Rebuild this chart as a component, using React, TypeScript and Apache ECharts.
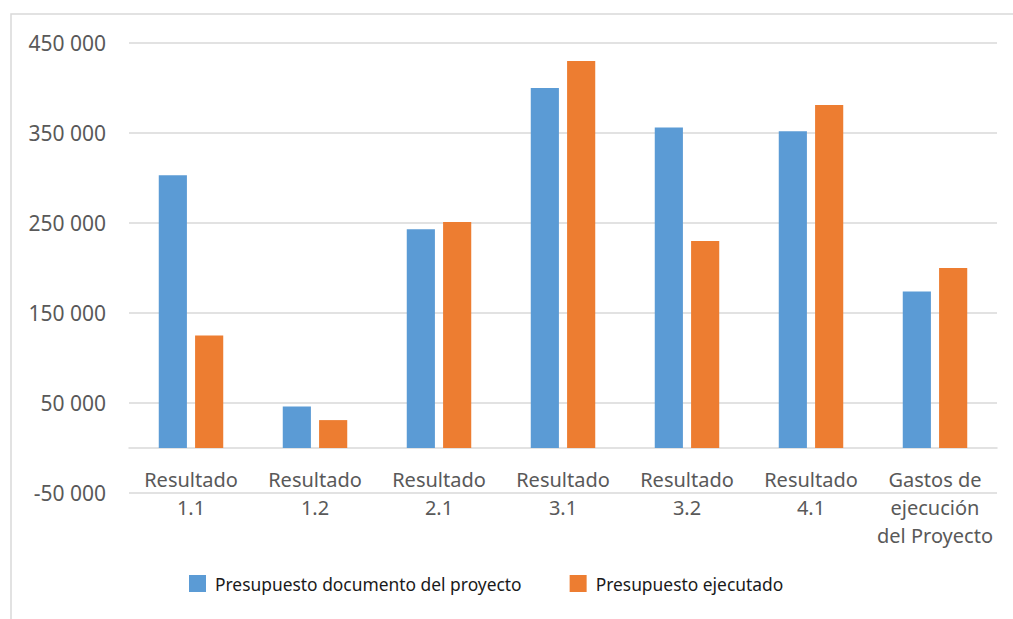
import React, { useEffect, useRef } from "react";
import * as echarts from "echarts";

const categories = [
  "Resultado\n1.1",
  "Resultado\n1.2",
  "Resultado\n2.1",
  "Resultado\n3.1",
  "Resultado\n3.2",
  "Resultado\n4.1",
  "Gastos de\nejecución\ndel Proyecto",
];
const seriesNames = ["Presupuesto documento del proyecto", "Presupuesto ejecutado"];
const presupuestoDocumento = [303000, 46000, 243000, 400000, 356000, 352000, 174000];
const presupuestoEjecutado = [125000, 31000, 251000, 430000, 230000, 381000, 200000];
const yMin = -50000;
const yMax = 450000;
const yInterval = 100000;

const fmt = (v: number) => {
  const s = Math.abs(v).toString().replace(/\B(?=(\d{3})+(?!\d))/g, " ");
  return (v < 0 ? "-" : "") + s;
};

export default function App() {
  const ref = useRef<HTMLDivElement>(null);
  useEffect(() => {
    document.body.style.margin = "0";
    const chart = echarts.init(ref.current!, null, { renderer: "svg" });
    const font = "'Noto Sans', 'Open Sans', sans-serif";
    chart.setOption({
      animation: false,
      backgroundColor: "#ffffff",
      textStyle: { fontFamily: font },
      graphic: [
        {
          type: "rect",
          shape: { x: 11, y: 14, width: 1100, height: 700 },
          style: { fill: "none", stroke: "#d9d9d9", lineWidth: 1.5 },
          silent: true,
        },
      ],
      grid: { left: 129, right: 16, top: 43, bottom: 126, containLabel: false },
      legend: {
        top: 570,
        left: 184,
        itemWidth: 17,
        itemHeight: 17,
        itemGap: 48,
        icon: "rect",
        textStyle: { fontSize: 17.4, color: "#1a1a1a", fontFamily: font, padding: [0, 0, 0, 4] },
        data: seriesNames,
      },
      xAxis: {
        type: "category",
        data: categories,
        axisLine: { onZero: true, lineStyle: { color: "#d9d9d9", width: 1.5 } },
        axisTick: { show: false },
        axisLabel: {
          interval: 0,
          color: "#595959",
          fontSize: 20,
          lineHeight: 28,
          margin: -28,
          fontFamily: font,
        },
      },
      yAxis: {
        type: "value",
        min: yMin,
        max: yMax,
        interval: yInterval,
        axisLine: { show: false },
        axisTick: { show: false },
        splitLine: { lineStyle: { color: "#d9d9d9", width: 1.5 } },
        axisLabel: {
          color: "#595959",
          fontSize: 21,
          margin: 23,
          fontFamily: font,
          formatter: (v: number) => fmt(v),
        },
      },
      series: [
        {
          name: seriesNames[0],
          type: "bar",
          data: presupuestoDocumento,
          itemStyle: { color: "#5b9bd5" },
          barGap: "29%",
          barCategoryGap: "48%",
        },
        {
          name: seriesNames[1],
          type: "bar",
          data: presupuestoEjecutado,
          itemStyle: { color: "#ed7d31" },
          barGap: "29%",
          barCategoryGap: "48%",
        },
      ],
    });
    return () => chart.dispose();
  }, []);
  return <div ref={ref} style={{ width: 1013, height: 619 }} />;
}
